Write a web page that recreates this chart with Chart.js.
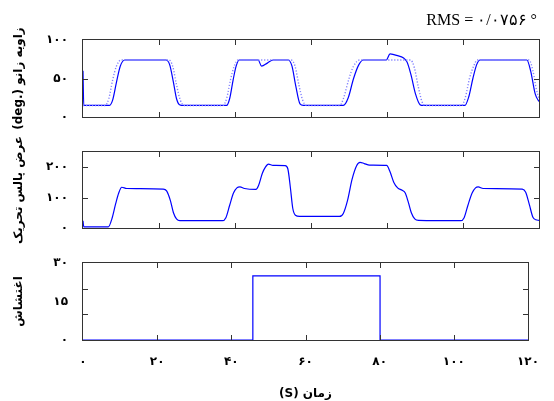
<!DOCTYPE html>
<html>
<head>
<meta charset="utf-8">
<script src="https://cdn.jsdelivr.net/npm/chart.js@4"></script>
<style>
  body { margin: 0; background: #fff; }
  #wrap { position: relative; width: 554px; height: 401px; }
  #wrap canvas { position: absolute; left: 0; top: 0; }
  #rms { position: absolute; right: 17px; top: 10px; font: 16px "Liberation Serif", serif; color: #000; white-space: nowrap; }
</style>
</head>
<body>
<div id="wrap">
  <canvas id="knee" width="554" height="401"></canvas>
  <canvas id="pulse" width="554" height="401"></canvas>
  <canvas id="dist" width="554" height="401"></canvas>
  <div id="rms">RMS = ۰/۰۷۵۶ °</div>
</div>
<script>
// knee angle, measured (solid)
const kneeTime = [0, 0.2, 6.9, 7.8, 8.8, 9.8, 11.0, 21.8, 22.8, 23.8, 24.6, 25.4, 26.5,
  37.8, 38.6, 39.5, 40.3, 41.1, 46.1, 47.0, 48.5, 50.0, 54.0, 55.0, 56.0, 57.1, 58.0,
  68.5, 69.8, 71.2, 72.6, 73.8, 79.8, 80.8, 82.5, 85.2, 86.3, 87.5, 88.7, 89.5,
  100.5, 101.5, 102.6, 103.6, 104.5, 116.8, 117.8, 119.0, 120];
const kneeActual = [60, 15, 15, 22, 45, 66, 74, 74, 68, 45, 24, 16, 15,
  15, 24, 48, 66, 74, 74, 66, 70, 74, 74, 66, 40, 17, 15,
  15, 25, 50, 68, 74, 74, 82, 80, 72, 55, 30, 16, 15,
  15, 26, 50, 68, 74, 74, 60, 30, 20];

// knee angle, desired (dotted)
const refTime = [0, 5.8, 6.8, 7.8, 8.8, 10.0, 22.6, 23.6, 24.6, 25.6, 26.6,
  36.8, 37.8, 38.8, 39.8, 40.8, 54.8, 55.8, 56.8, 57.8, 58.8,
  67.6, 68.6, 70.0, 71.2, 72.8, 86.2, 87.2, 88.2, 89.2, 90.0,
  99.6, 100.6, 101.7, 102.8, 103.8, 117.4, 118.4, 119.3, 120];
const kneeDesired = [15, 15, 24, 48, 66, 74, 74, 66, 42, 22, 15,
  15, 24, 48, 66, 74, 74, 66, 42, 22, 15,
  15, 25, 50, 66, 74, 74, 64, 40, 20, 15,
  15, 25, 50, 66, 74, 74, 60, 36, 24];

// stimulation pulse width
const pulseTime = [0, 0.2, 6.7, 7.6, 8.6, 9.4, 10.2, 11.5, 21.1, 22.0, 23.0, 23.8, 24.6, 25.5,
  36.7, 37.6, 38.6, 39.6, 40.5, 41.3, 42.5, 45.5, 46.2, 47.2, 48.0, 48.8, 50.0,
  53.2, 53.9, 54.6, 55.2, 55.9, 57.0,
  67.5, 68.5, 69.6, 70.8, 72.0, 72.9, 74.0, 75.4, 79.9, 80.8, 81.8, 82.8, 84.0, 84.8, 85.6, 86.4, 87.3, 88.3,
  99.4, 100.3, 101.3, 102.4, 103.3, 104.0, 105.3, 115.6, 116.5, 117.5, 118.4, 119.2, 120];
const pulseWidth = [24, 4, 4, 30, 80, 115, 134, 130, 128, 122, 90, 50, 30, 24,
  24, 34, 75, 115, 132, 135, 130, 127, 140, 180, 200, 210, 206,
  205, 195, 130, 65, 42, 38,
  38, 48, 90, 160, 205, 216, 212, 207, 206, 185, 150, 132, 124, 115, 85, 50, 30, 25,
  24, 34, 75, 115, 132, 135, 130, 128, 118, 75, 35, 27, 25];

// disturbance
const distTime = [0, 45.8, 45.8, 80.1, 80.1, 120];
const distValue = [0, 0, 25, 25, 0, 0];

const xTickMarks = [20, 40, 60, 80, 100];

const fa = v => String(v).replace(/\d/g, d => '۰۱۲۳۴۵۶۷۸۹'[d]);
const pts = (xs, ys) => xs.map((x, i) => ({ x, y: ys[i] }));

const tickFont = { family: '"DejaVu Sans"', size: 12, weight: 'bold' };
const titleFont = { family: '"DejaVu Sans"', size: 12, weight: 'bold' };

// box round the plot area with short inward tick marks, matlab style
const boxPlugin = {
  id: 'box',
  afterDatasetsDraw(chart, args, opts) {
    const { ctx, chartArea: a, scales } = chart;
    ctx.save();
    ctx.strokeStyle = '#333';
    ctx.lineWidth = 1;
    ctx.beginPath();
    (opts.xTicks || []).forEach(v => {
      const px = Math.round(scales.x.getPixelForValue(v)) + 0.5;
      ctx.moveTo(px, a.bottom); ctx.lineTo(px, a.bottom - 5);
      ctx.moveTo(px, a.top); ctx.lineTo(px, a.top + 5);
    });
    (opts.yTicks || []).forEach(v => {
      const py = Math.round(scales.y.getPixelForValue(v)) + 0.5;
      ctx.moveTo(a.left, py); ctx.lineTo(a.left + 5, py);
      ctx.moveTo(a.right, py); ctx.lineTo(a.right - 5, py);
    });
    ctx.stroke();
    ctx.strokeRect(Math.round(a.left) - 0.5, Math.round(a.top) - 0.5,
      Math.round(a.right - a.left) + 1, Math.round(a.bottom - a.top) + 1);
    ctx.restore();
  }
};

function panel(id, datasets, cfg) {
  return new Chart(document.getElementById(id), {
    type: 'line',
    data: { datasets },
    options: {
      responsive: false,
      animation: false,
      devicePixelRatio: 1,
      layout: { padding: { top: cfg.top, bottom: cfg.bottom, left: 0, right: 15 } },
      plugins: {
        legend: { display: false },
        tooltip: { enabled: false },
        box: { xTicks: xTickMarks, yTicks: cfg.yTicks }
      },
      elements: { point: { radius: 0 } },
      scales: {
        x: {
          type: 'linear', min: 0, max: 120, display: cfg.showX,
          grid: { display: false, drawTicks: false },
          border: { display: false },
          ticks: { stepSize: 20, padding: 15, maxRotation: 0, autoSkip: false, color: '#000', font: tickFont, callback: fa },
          title: { display: cfg.showX, text: '(S) زمان', color: '#000', font: titleFont, padding: { top: 0, bottom: 0 } },
          afterFit: cfg.showX ? s => { s.height = 61; } : undefined
        },
        y: {
          min: 0, max: cfg.yMax,
          grid: { display: false, drawTicks: false },
          border: { display: false },
          ticks: { stepSize: cfg.yStep, padding: 15, color: '#000', font: tickFont, callback: fa },
          // keep only whole steps (drops the extra label at a max that is not a step)
          afterBuildTicks: s => { s.ticks = s.ticks.filter(t => t.value % cfg.yStep === 0); },
          title: { display: true, text: cfg.yTitle, color: '#000', font: titleFont, padding: { top: 12, bottom: 0 } },
          afterFit: s => { s.width = 83; }
        }
      }
    },
    plugins: [boxPlugin]
  });
}

panel('knee', [
  { data: pts(refTime, kneeDesired), borderColor: '#8080ff', borderWidth: 1.4, borderDash: [1.2, 1.8], cubicInterpolationMode: 'monotone' },
  { data: pts(kneeTime, kneeActual), borderColor: '#0000ff', borderWidth: 1.2, cubicInterpolationMode: 'monotone' }
], { top: 40, bottom: 284, yMax: 100, yStep: 50, yTicks: [50], yTitle: '(deg.) زاویه زانو', showX: false });

panel('pulse', [
  { data: pts(pulseTime, pulseWidth), borderColor: '#0000ff', borderWidth: 1.2, cubicInterpolationMode: 'monotone' }
], { top: 152, bottom: 173, yMax: 250, yStep: 100, yTicks: [100, 200], yTitle: 'عرض پالس تحریک', showX: false });

panel('dist', [
  { data: pts(distTime, distValue), borderColor: '#0000ff', borderWidth: 1.2, tension: 0 }
], { top: 263, bottom: 0, yMax: 30, yStep: 15, yTicks: [10, 20], yTitle: 'اغتشاش', showX: true });
</script>
</body>
</html>
